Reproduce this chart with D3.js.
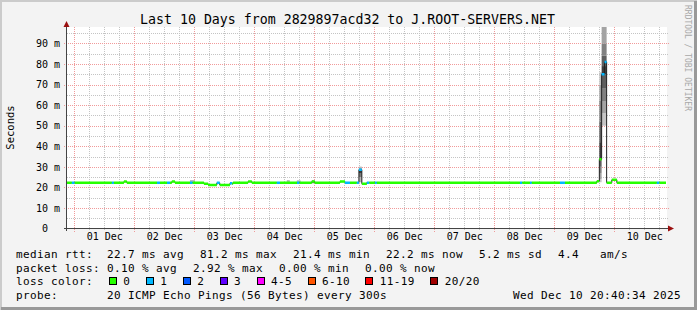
<!DOCTYPE html>
<html>
<head>
<meta charset="utf-8">
<script src="https://cdn.jsdelivr.net/npm/d3@7"></script>
<style>
  body { margin: 0; background: #f3f3f3; }
  svg { display: block; }
  text { font-family: "DejaVu Sans Mono", monospace; fill: #000; }
</style>
</head>
<body>
<div id="chart"></div>
<script>
// ---- data ----
const chartTitle = "Last 10 Days from 2829897acd32 to J.ROOT-SERVERS.NET";
const yTitle = "Seconds";
const watermark = "RRDTOOL / TOBI OETIKER";
const rangeStart = "2025-11-30 20:40";
const rangeEnd = "2025-12-10 20:40";
const yTicksMs = [0, 10, 20, 30, 40, 50, 60, 70, 80, 90];
const dayLabels = ["01 Dec", "02 Dec", "03 Dec", "04 Dec", "05 Dec", "06 Dec", "07 Dec", "08 Dec", "09 Dec", "10 Dec"];

const lossLabels = ["0", "1", "2", "3", "4-5", "6-10", "11-19", "20/20"];
const lossPalette = ["#26ff00", "#00b8ff", "#0059ff", "#5e00ff", "#ff00ff", "#ff5500", "#ff0000", "#a00000"];

// median rtt steps: [from time, ms, loss class index]
const medianSteps = [
  ["2025-11-30 20:40", 22.3, 0],
  ["2025-11-30 23:00", 22.3, 1],
  ["2025-12-01 00:10", 22.3, 0],
  ["2025-12-01 15:00", 22.3, 1],
  ["2025-12-01 15:50", 22.3, 0],
  ["2025-12-01 19:50", 22.8, 0],
  ["2025-12-01 21:00", 22.3, 0],
  ["2025-12-02 09:05", 22.3, 1],
  ["2025-12-02 10:15", 22.3, 0],
  ["2025-12-02 13:05", 22.3, 1],
  ["2025-12-02 14:15", 22.3, 0],
  ["2025-12-02 15:00", 22.8, 0],
  ["2025-12-02 16:15", 22.3, 0],
  ["2025-12-02 22:15", 22.3, 1],
  ["2025-12-02 23:20", 22.3, 0],
  ["2025-12-03 03:50", 21.8, 0],
  ["2025-12-03 05:30", 21.2, 0],
  ["2025-12-03 09:00", 22.2, 1],
  ["2025-12-03 10:10", 21.2, 0],
  ["2025-12-03 14:15", 22.0, 1],
  ["2025-12-03 15:10", 21.8, 0],
  ["2025-12-03 15:30", 22.3, 0],
  ["2025-12-03 21:30", 22.8, 0],
  ["2025-12-03 23:00", 22.3, 0],
  ["2025-12-04 09:00", 22.3, 1],
  ["2025-12-04 10:15", 22.3, 0],
  ["2025-12-04 17:05", 22.3, 1],
  ["2025-12-04 18:05", 22.3, 0],
  ["2025-12-04 23:00", 22.8, 0],
  ["2025-12-05 00:10", 22.3, 0],
  ["2025-12-05 10:15", 22.8, 0],
  ["2025-12-05 12:15", 22.3, 1],
  ["2025-12-05 14:15", 22.3, 0],
  ["2025-12-05 17:00", 22.3, 1],
  ["2025-12-05 17:50", 28.6, 1],
  ["2025-12-05 19:00", 21.8, 0],
  ["2025-12-05 21:00", 22.3, 1],
  ["2025-12-05 22:00", 22.3, 0],
  ["2025-12-06 00:15", 22.3, 1],
  ["2025-12-06 01:00", 22.3, 0],
  ["2025-12-08 10:15", 22.3, 1],
  ["2025-12-08 11:10", 22.3, 0],
  ["2025-12-08 14:15", 22.3, 1],
  ["2025-12-08 15:00", 22.3, 0],
  ["2025-12-09 02:15", 22.3, 1],
  ["2025-12-09 04:15", 22.3, 0],
  ["2025-12-09 17:00", 23.0, 0],
  ["2025-12-09 18:00", 33.7, 0],
  ["2025-12-09 18:55", 75.0, 1],
  ["2025-12-09 20:05", 81.0, 1],
  ["2025-12-09 20:55", 22.3, 0],
  ["2025-12-09 23:00", 23.7, 0],
  ["2025-12-10 01:00", 22.3, 0],
  ["2025-12-10 17:00", 22.3, 1],
  ["2025-12-10 18:00", 22.3, 0]
];

// smoke: sorted ping spread (ms) for the intervals where it shows
const smokeBands = [
  { from: "2025-12-02 22:15", to: "2025-12-03 00:15", pings: [21.9, 22.1, 22.3, 22.8, 23.5] },
  { from: "2025-12-04 13:00", to: "2025-12-04 14:10", pings: [21.9, 22.1, 22.3, 22.8, 23.5] },
  { from: "2025-12-04 17:00", to: "2025-12-04 18:30", pings: [21.9, 22.1, 22.3, 22.8, 23.4] },
  { from: "2025-12-04 23:00", to: "2025-12-05 00:10", pings: [21.9, 22.2, 22.8, 23.2, 23.6] },
  { from: "2025-12-05 17:50", to: "2025-12-05 19:00", pings: [22.5, 25.0, 27.0, 28.6, 29.3, 30.1] },
  { from: "2025-12-09 18:00", to: "2025-12-09 18:55", pings: [22.5, 24, 27, 30, 33.7, 42, 52, 62, 70, 76] },
  { from: "2025-12-09 18:55", to: "2025-12-09 20:55", pings: [50, 56, 62, 68, 75, 79, 84, 90, 100, 115] }
];

const rttLine = ["median rtt:", "22.7 ms avg", "81.2 ms max", "21.4 ms min", "22.2 ms now", "5.2 ms sd", "4.4", "am/s"];
const lossLine = ["packet loss:", "0.10 % avg", "2.92 % max", "0.00 % min", "0.00 % now"];
const colorLine = "loss color:";
const probeLine = ["probe:", "20 ICMP Echo Pings (56 Bytes) every 300s", "Wed Dec 10 20:40:34 2025"];

// ---- drawing ----
const width = 697, height = 310;
const plot = { left: 67, right: 667, top: 27, bottom: 228.5 };
const parse = d3.timeParse("%Y-%m-%d %H:%M");

const svg = d3.select("#chart").append("svg").attr("width", width).attr("height", height);

// frame
svg.append("rect").attr("width", width).attr("height", height).attr("fill", "#f3f3f3");
svg.append("path").attr("d", `M1,${height} V1 H${width}`).attr("fill", "none").attr("stroke", "#cbcbcb").attr("stroke-width", 2);
svg.append("path").attr("d", `M1,${height - 1.5} H${width - 1.5} V1`).attr("fill", "none").attr("stroke", "#999").attr("stroke-width", 3);

svg.append("rect").attr("x", plot.left).attr("y", plot.top)
  .attr("width", plot.right - plot.left).attr("height", plot.bottom - plot.top).attr("fill", "#fff");

const x = d3.scaleTime().domain([parse(rangeStart), parse(rangeEnd)]).range([66, 666]);
const y = d3.scaleLinear().domain([0, 98]).range([plot.bottom, plot.top]);

const grid = svg.append("g").attr("shape-rendering", "crispEdges");
const minorY = d3.range(5, 98, 10);
const minorX = d3.timeHour.every(6).range(parse(rangeStart), parse(rangeEnd)).filter(d => d.getHours() !== 0);
const majorX = d3.timeDay.range(parse(rangeStart), parse(rangeEnd));

grid.selectAll(".hmin").data(minorY).enter().append("line")
  .attr("x1", plot.left).attr("x2", plot.right + 2)
  .attr("y1", d => Math.round(y(d)) + 0.5).attr("y2", d => Math.round(y(d)) + 0.5)
  .attr("stroke", "#c4c4c4").attr("stroke-dasharray", "1,1");
grid.selectAll(".vmin").data(minorX).enter().append("line")
  .attr("x1", d => Math.round(x(d)) + 0.5).attr("x2", d => Math.round(x(d)) + 0.5)
  .attr("y1", plot.top).attr("y2", plot.bottom + 2)
  .attr("stroke", "#c4c4c4").attr("stroke-dasharray", "1,1");
grid.selectAll(".hmaj").data(yTicksMs.slice(1)).enter().append("line")
  .attr("x1", plot.left - 3).attr("x2", plot.right + 2)
  .attr("y1", d => Math.round(y(d)) + 0.5).attr("y2", d => Math.round(y(d)) + 0.5)
  .attr("stroke", "#f19a9a").attr("stroke-dasharray", "1,1");
grid.selectAll(".vmaj").data(majorX).enter().append("line")
  .attr("x1", d => Math.round(x(d)) + 0.5).attr("x2", d => Math.round(x(d)) + 0.5)
  .attr("y1", plot.top).attr("y2", plot.bottom + 3)
  .attr("stroke", "#f19a9a").attr("stroke-dasharray", "1,1");

// data layer clipped to the plot
svg.append("clipPath").attr("id", "plotclip").append("rect")
  .attr("x", plot.left).attr("y", plot.top)
  .attr("width", plot.right - plot.left).attr("height", plot.bottom - plot.top);
const data = svg.append("g").attr("clip-path", "url(#plotclip)");

// smoke
const smokeShade = d3.interpolateRgb("#3c3c3c", "#d6d6d6");
smokeBands.forEach(b => {
  const n = b.pings.length, mid = (n - 1) / 2;
  const x0 = x(parse(b.from)), x1 = x(parse(b.to));
  const parts = d3.range(n - 1).map(k => ({ lo: b.pings[k], hi: b.pings[k + 1], t: Math.abs(k + 0.5 - mid) / mid }));
  data.selectAll(null).data(parts).enter().append("rect")
    .attr("x", x0).attr("width", x1 - x0)
    .attr("y", d => y(d.hi)).attr("height", d => y(d.lo) - y(d.hi))
    .attr("fill", d => smokeShade(d.t));
});

// median as a thin step line underneath
const steps = medianSteps.map(([t, ms, loss]) => ({ t: parse(t), ms, loss }));
const end = parse(rangeEnd);
const stepPts = steps.concat([{ t: end, ms: steps[steps.length - 1].ms, loss: steps[steps.length - 1].loss }]);
const stepLine = d3.line().x(d => x(d.t)).y(d => y(d.ms)).curve(d3.curveStepAfter);
data.append("path").attr("d", stepLine(stepPts))
  .attr("fill", "none").attr("stroke", "#202020").attr("stroke-width", 1);

// loss coloured median segments
const segs = steps.map((s, i) => ({ ...s, t1: i + 1 < steps.length ? steps[i + 1].t : end }));
data.selectAll(".seg").data(segs).enter().append("line")
  .attr("x1", d => x(d.t)).attr("x2", d => x(d.t1))
  .attr("y1", d => y(d.ms)).attr("y2", d => y(d.ms))
  .attr("stroke", d => lossPalette[d.loss]).attr("stroke-width", 2.5);

// axes lines and arrows
const axisG = svg.append("g");
axisG.append("line").attr("x1", 66.5).attr("x2", 66.5).attr("y1", plot.bottom + 2).attr("y2", 24)
  .attr("stroke", "#444").attr("shape-rendering", "crispEdges");
axisG.append("line").attr("x1", 64).attr("x2", 670).attr("y1", plot.bottom).attr("y2", plot.bottom)
  .attr("stroke", "#444").attr("shape-rendering", "crispEdges");
axisG.append("path").attr("d", "M66.5,21 L63.5,27 L69.5,27 Z").attr("fill", "#9b1010");
axisG.append("path").attr("d", `M674,${plot.bottom} L668,${plot.bottom - 3} L668,${plot.bottom + 3} Z`).attr("fill", "#9b1010");

// y labels
const yAxis = svg.append("g").attr("transform", "translate(60,0)")
  .call(d3.axisLeft(y).tickValues(yTicksMs).tickSize(0).tickPadding(0)
    .tickFormat(d => d === 0 ? "0\u00a0\u00a0" : `${d} m`));
yAxis.select(".domain").remove();
yAxis.selectAll("text").attr("font-family", "DejaVu Sans Mono").attr("font-size", 10).attr("fill", "#000");

// x labels at noon
const noonTicks = majorX.map(d => d3.timeHour.offset(d, 12));
const xAxis = svg.append("g").attr("transform", `translate(0,${plot.bottom})`)
  .call(d3.axisBottom(x).tickValues(noonTicks).tickSize(0).tickPadding(4.5)
    .tickFormat((d, i) => dayLabels[i]));
xAxis.select(".domain").remove();
xAxis.selectAll("text").attr("font-family", "DejaVu Sans Mono").attr("font-size", 10).attr("fill", "#000");

// titles
svg.append("text").attr("x", 347.5).attr("y", 23.5).attr("text-anchor", "middle")
  .style("font-size", "13.25px").text(chartTitle);
svg.append("text").attr("transform", "translate(13.5,127.5) rotate(-90)").attr("text-anchor", "middle")
  .style("font-size", "10.5px").text(yTitle);
svg.append("text").attr("transform", "translate(685,5) rotate(90)")
  .style("font-size", "8px").style("fill", "#a8a8a8").text(watermark);

// legend block
const legendFont = g => g.style("font-size", "11px").style("letter-spacing", "0.38px");
const rttX = [16, 107, 200, 293, 386, 479, 558, 600];
const lossX = [16, 107, 193, 279, 365];
const probeX = [16, 107, 513];
const rows = [258, 271.7, 285.4, 299.1];

const leg = svg.append("g").call(legendFont);
rttLine.forEach((s, i) => leg.append("text").attr("x", rttX[i]).attr("y", rows[0]).text(s));
lossLine.forEach((s, i) => leg.append("text").attr("x", lossX[i]).attr("y", rows[1]).text(s));
leg.append("text").attr("x", 16).attr("y", rows[2]).text(colorLine);
probeLine.forEach((s, i) => leg.append("text").attr("x", probeX[i]).attr("y", rows[3]).text(s));

let cx = 109;
lossLabels.forEach((lab, i) => {
  leg.append("rect").attr("x", cx + 0.5).attr("y", rows[2] - 7.5).attr("width", 7).attr("height", 7)
    .attr("fill", lossPalette[i]).attr("stroke", "#000").attr("shape-rendering", "crispEdges");
  const t = leg.append("text").attr("x", cx + 14.3).attr("y", rows[2]).text(lab);
  cx = cx + 14.3 + t.node().getComputedTextLength() + 15.6;
});
</script>
</body>
</html>
